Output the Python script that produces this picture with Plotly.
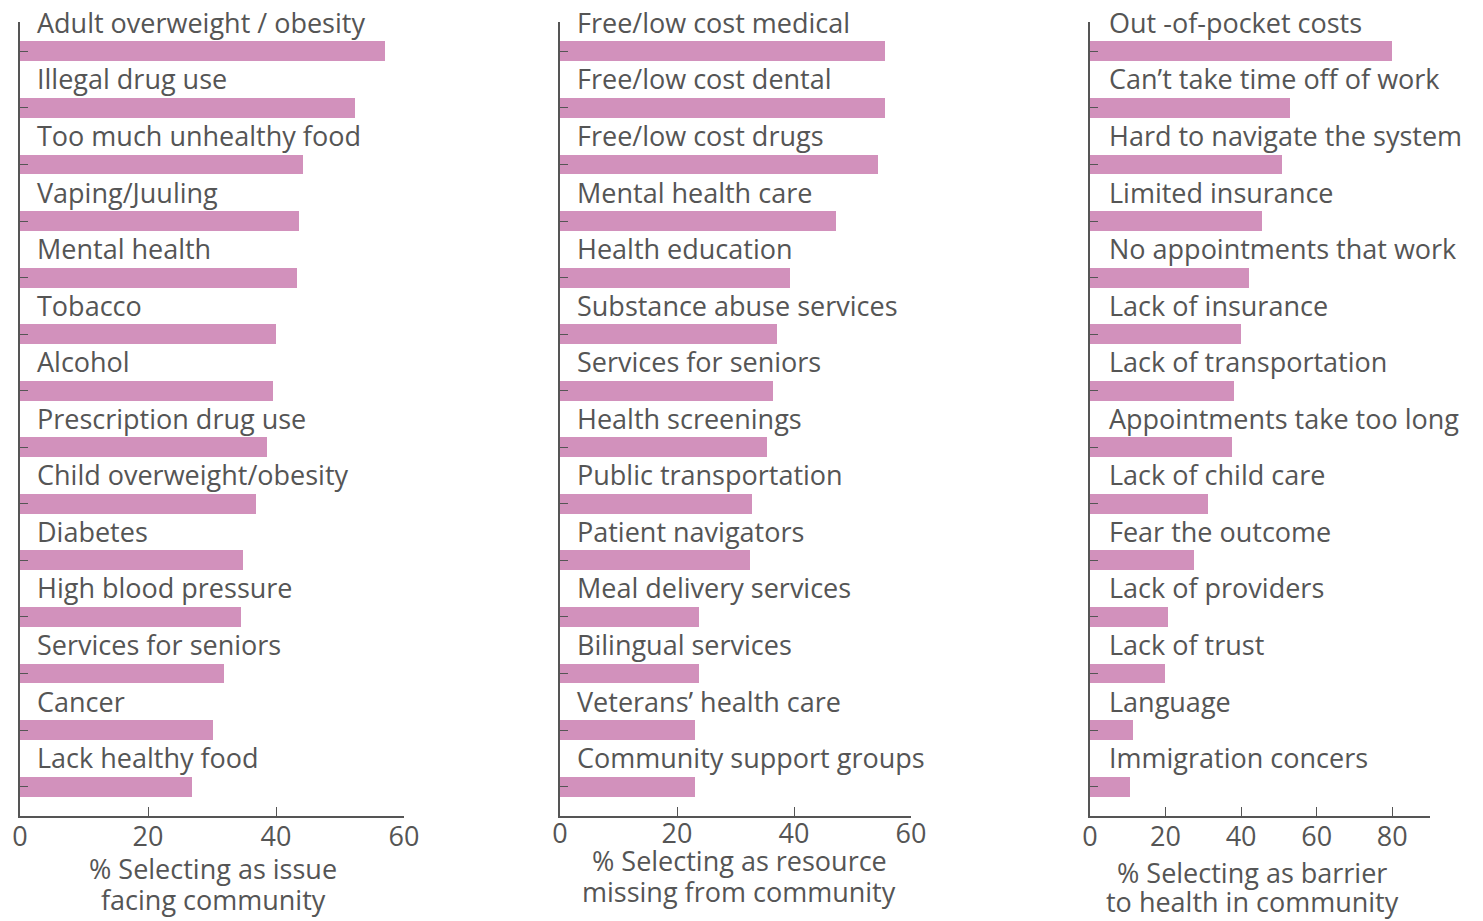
import plotly.graph_objects as go

# --- data -------------------------------------------------------------
issue_labels = [
    "Adult overweight / obesity", "Illegal drug use", "Too much unhealthy food",
    "Vaping/Juuling", "Mental health", "Tobacco", "Alcohol",
    "Prescription drug use", "Child overweight/obesity", "Diabetes",
    "High blood pressure", "Services for seniors", "Cancer", "Lack healthy food",
]
issue_pct = [57.0, 52.3, 44.2, 43.6, 43.3, 40.0, 39.5, 38.6, 36.9, 34.8, 34.5, 31.9, 30.2, 26.9]

resource_labels = [
    "Free/low cost medical", "Free/low cost dental", "Free/low cost drugs",
    "Mental health care", "Health education", "Substance abuse services",
    "Services for seniors", "Health screenings", "Public transportation",
    "Patient navigators", "Meal delivery services", "Bilingual services",
    "Veterans\u2019 health care", "Community support groups",
]
resource_pct = [55.6, 55.6, 54.4, 47.2, 39.3, 37.1, 36.4, 35.4, 32.8, 32.5, 23.8, 23.8, 23.1, 23.1]

barrier_labels = [
    "Out -of-pocket costs", "Can\u2019t take time off of work", "Hard to navigate the system",
    "Limited insurance", "No appointments that work", "Lack of insurance",
    "Lack of transportation", "Appointments take too long", "Lack of child care",
    "Fear the outcome", "Lack of providers", "Lack of trust", "Language",
    "Immigration concers",
]
barrier_pct = [80.0, 53.0, 50.9, 45.6, 42.1, 40.0, 38.1, 37.6, 31.3, 27.5, 20.7, 19.9, 11.4, 10.6]

issue_title = ["% Selecting as issue", "facing community"]
resource_title = ["% Selecting as resource", "missing from community"]
barrier_title = ["% Selecting as barrier", "to health in community"]

issue_ticks = [0, 20, 40, 60]
resource_ticks = [0, 20, 40, 60]
barrier_ticks = [0, 20, 40, 60, 80]

# --- styling ----------------------------------------------------------
W, H = 1483, 921
PINK = "#D291BC"
INK = "#555555"
FONT = "Open Sans"
FS = 27

# pixel placement of each panel: plot x-extent, tick-label nudge,
# axis-title centre x and the two title line centres (y from top)
panels = [
    dict(labels=issue_labels, vals=issue_pct, title=issue_title, xr=[0, 60],
         ticks=issue_ticks, px=(20, 404), tls=-4, tx=213, ty=(868, 899), lx=15),
    dict(labels=resource_labels, vals=resource_pct, title=resource_title, xr=[0, 60],
         ticks=resource_ticks, px=(560, 911), tls=-7, tx=739, ty=(860, 891), lx=15),
    dict(labels=barrier_labels, vals=barrier_pct, title=barrier_title, xr=[0, 90],
         ticks=barrier_ticks, px=(1090, 1430), tls=-4, tx=1252, ty=(872, 901), lx=17),
]

fig = go.Figure()
y_dom = [1 - 816 / H, 1 - 22 / H]

for k, p in enumerate(panels, start=1):
    sfx = "" if k == 1 else str(k)
    pos = list(range(len(p["labels"])))
    n = len(pos)
    fig.add_trace(go.Bar(
        x=p["vals"], y=pos, orientation="h", width=0.353,
        marker=dict(color=PINK, line=dict(width=0)),
        xaxis="x" + sfx, yaxis="y" + sfx, showlegend=False,
        hovertext=p["labels"], hoverinfo="text+x",
    ))
    fig.layout["xaxis" + sfx] = dict(
        domain=[p["px"][0] / W, p["px"][1] / W], range=p["xr"], anchor="y" + sfx,
        tickmode="array", tickvals=p["ticks"], ticks="inside", ticklen=9,
        tickcolor=INK, tickwidth=1.3, showline=True, linecolor=INK, linewidth=1.5,
        showgrid=False, zeroline=False, automargin=False, ticklabelstandoff=p["tls"],
        tickfont=dict(size=FS, color=INK, family=FONT),
    )
    fig.layout["yaxis" + sfx] = dict(
        domain=y_dom, range=[n - 1 + 0.52, -0.52], anchor="x" + sfx,
        tickmode="array", tickvals=pos, showticklabels=False, ticks="inside",
        ticklen=8, tickcolor=INK, tickwidth=1.3, showline=True, linecolor=INK,
        linewidth=1.5, showgrid=False, zeroline=False, automargin=False,
    )
    # category names sit just above their bars
    for y, lab in zip(pos, p["labels"]):
        fig.add_annotation(
            x=0, y=y, xref="x" + sfx, yref="y" + sfx, text=lab, showarrow=False,
            xanchor="left", yanchor="middle", xshift=p["lx"], yshift=29,
            font=dict(size=FS, color=INK, family=FONT),
        )
    # two-line axis title, tightly leaded
    for line, yy in zip(p["title"], p["ty"]):
        fig.add_annotation(
            x=p["tx"] / W, y=1 - yy / H, xref="paper", yref="paper", text=line,
            showarrow=False, xanchor="center", yanchor="middle",
            font=dict(size=FS, color=INK, family=FONT),
        )

fig.update_layout(
    width=W, height=H, margin=dict(l=0, r=0, t=0, b=0, autoexpand=False),
    paper_bgcolor="white", plot_bgcolor="white",
    font=dict(family=FONT, color=INK, size=FS), bargap=0,
)

fig.write_html("out.html")
